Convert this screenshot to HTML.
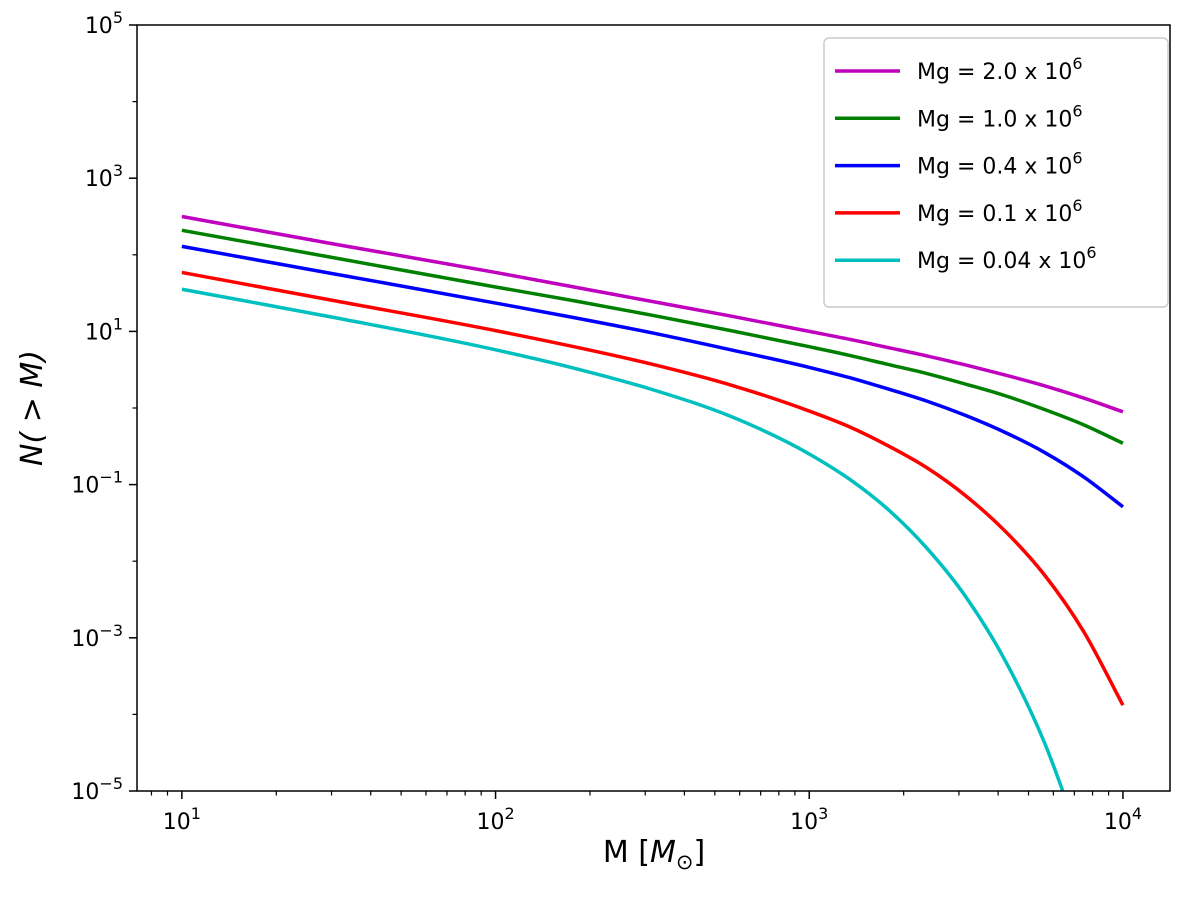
<!DOCTYPE html>
<html><head><meta charset="utf-8"><style>
body{margin:0;background:#fff;}
svg text{font-family:"DejaVu Sans","Liberation Sans",sans-serif;fill:#000;}
</style></head><body>
<svg id="chart" width="1200" height="900" xmlns="http://www.w3.org/2000/svg">
<g id="plot"></g>
</svg>
<script>
const logM = [1, 1.5, 2, 2.25, 2.5, 2.75, 3, 3.125, 3.25, 3.375, 3.5, 3.625, 3.75, 3.875, 4];
const magenta = [2.50, 2.13, 1.77, 1.58, 1.39, 1.20, 1.00, 0.90, 0.79, 0.68, 0.56, 0.43, 0.29, 0.13, -0.05];
const green = [2.32, 1.95, 1.58, 1.40, 1.21, 1.01, 0.80, 0.69, 0.57, 0.45, 0.31, 0.16, -0.02, -0.22, -0.46];
const blue = [2.11, 1.74, 1.37, 1.18, 0.98, 0.76, 0.53, 0.40, 0.25, 0.09, -0.10, -0.32, -0.58, -0.90, -1.29];
const red = [1.77, 1.39, 1.01, 0.80, 0.57, 0.30, -0.04, -0.24, -0.49, -0.78, -1.15, -1.61, -2.18, -2.92, -3.88];
const cyanX = [1, 1.5, 2, 2.25, 2.5, 2.75, 3, 3.125, 3.25, 3.375, 3.5, 3.625, 3.75, 3.875];
const cyan = [1.55, 1.17, 0.76, 0.52, 0.24, -0.11, -0.60, -0.92, -1.32, -1.83, -2.47, -3.30, -4.37, -5.77];
const seriesNames = ["Mg = 2.0 x 10", "Mg = 1.0 x 10", "Mg = 0.4 x 10", "Mg = 0.1 x 10", "Mg = 0.04 x 10"];
const xTicks = [1, 2, 3, 4];
const yTicks = [-5, -3, -1, 1, 3, 5];

const L=137,R=1170,T=25,B=791;
const xMin=0.857,xMax=4.15,yMin=-5,yMax=5;
const xs=v=>L+(v-xMin)/(xMax-xMin)*(R-L);
const ys=v=>B-(v-yMin)/(yMax-yMin)*(B-T);
const NS="http://www.w3.org/2000/svg";
const g=document.getElementById('plot');
function mk(t,a,p){const e=document.createElementNS(NS,t);for(const k in a)e.setAttribute(k,a[k]);(p||g).appendChild(e);return e;}

const clip=mk('clipPath',{id:'c'});mk('rect',{x:L,y:T,width:R-L,height:B-T},clip);

xTicks.forEach(d=>{
  const t=mk('line',{x1:xs(d),x2:xs(d),y1:B,y2:B+8,stroke:'#000','stroke-width':1.5});
  
  
  const tx=mk('text',{x:xs(d),y:B+38,'font-size':22,'text-anchor':'middle'});
  
  
  tx.innerHTML='10<tspan dy="-10" font-size="16">'+d+'</tspan>';
});
for(let d=0;d<5;d++)for(let m=2;m<10;m++){const v=d+Math.log10(m);if(v>xMin&&v<xMax){
  const t=mk('line',{x1:xs(v),x2:xs(v),y1:B,y2:B+4.5,stroke:'#000','stroke-width':1.2});
  
  }}
yTicks.forEach(d=>{
  const t=mk('line',{x1:L-8,x2:L,y1:ys(d),y2:ys(d),stroke:'#000','stroke-width':1.5});
  
  
  const tx=mk('text',{x:L-14,y:ys(d)+8,'font-size':22,'text-anchor':'end'});
  
  
  tx.innerHTML='10<tspan dy="-10" font-size="16">'+(d<0?'\u2212'+(-d):d)+'</tspan>';
});
for(let d=-4;d<5;d+=2){const t=mk('line',{x1:L-4.5,x2:L,y1:ys(d),y2:ys(d),stroke:'#000','stroke-width':1.2});
  
  }

// cubic Hermite with finite-difference tangents (non-uniform aware)
function smoothPath(P){
  const n=P.length,t=[];
  for(let i=0;i<n;i++){
    if(i===0)t[i]=(P[1][1]-P[0][1])/(P[1][0]-P[0][0]);
    else if(i===n-1)t[i]=(P[n-1][1]-P[n-2][1])/(P[n-1][0]-P[n-2][0]);
    else{const h0=P[i][0]-P[i-1][0],h1=P[i+1][0]-P[i][0];
      const m0=(P[i][1]-P[i-1][1])/h0,m1=(P[i+1][1]-P[i][1])/h1;
      t[i]=(m0*h1+m1*h0)/(h0+h1);}
  }
  let d='M'+P[0][0]+','+P[0][1];
  for(let i=0;i<n-1;i++){const h=(P[i+1][0]-P[i][0])/3;
    d+=` C${P[i][0]+h},${P[i][1]+t[i]*h} ${P[i+1][0]-h},${P[i+1][1]-t[i+1]*h} ${P[i+1][0]},${P[i+1][1]}`;}
  return d;
}

const defs=[[logM,magenta,'#bf00bf'],[logM,green,'#008000'],[logM,blue,'#0000ff'],[logM,red,'#ff0000'],[cyanX,cyan,'#00bfbf']];
const names=['series-mg-2.0','series-mg-1.0','series-mg-0.4','series-mg-0.1','series-mg-0.04'];
defs.forEach((s,i)=>{
  const pts=s[0].map((x,j)=>[xs(x),ys(s[1][j])]);
  const p=mk('path',{d:smoothPath(pts),fill:'none',stroke:s[2],'stroke-width':3.5,'clip-path':'url(#c)'});
  
  
});

const fr=mk('rect',{x:L,y:T,width:R-L,height:B-T,fill:'none',stroke:'#000','stroke-width':1.5});



const lg=mk('rect',{x:824,y:38,width:344,height:269,rx:5,fill:'#fff','fill-opacity':0.8,stroke:'#ccc','stroke-width':1.5});


seriesNames.forEach((n,i)=>{
  const y=71+i*47.3;
  const l=mk('line',{x1:835,x2:900,y1:y,y2:y,stroke:defs[i][2],'stroke-width':3.5});
  
  
  const t=mk('text',{x:917,y:y+8,'font-size':22});
  
  
  t.innerHTML=n+'<tspan dy="-10" font-size="16">6</tspan>';
});

const xt=mk('text',{x:654,y:862,'font-size':30,'text-anchor':'middle'});


xt.innerHTML='M [<tspan font-style="italic">M</tspan><tspan dy="7" font-size="21">\u2299</tspan><tspan dy="-7">]</tspan>';
const yt=mk('text',{x:0,y:0,'font-size':30,'text-anchor':'middle',transform:'translate(42,408) rotate(-90)','font-style':'italic'});


yt.textContent='N( > M)';
</script>
</body></html>
